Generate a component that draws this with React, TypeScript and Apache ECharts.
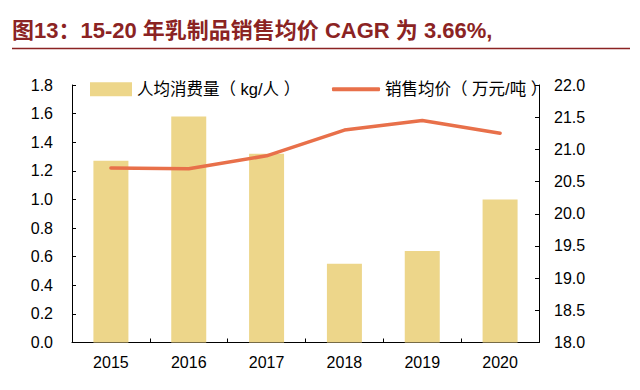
import React, { useEffect, useRef } from "react";
import * as echarts from "echarts";

const categories = ["2015", "2016", "2017", "2018", "2019", "2020"];
const consumption = [1.27, 1.58, 1.32, 0.55, 0.64, 1.0];
const avgPrice = [20.71, 20.7, 20.9, 21.3, 21.45, 21.25];
const barName = "人均消费量（ kg/人 ）";
const lineName = "销售均价（ 万元/吨 ）";
const titleText = "图13：15-20 年乳制品销售均价 CAGR 为 3.66%,";

const FONT = "'Liberation Sans', Arial, 'Noto Sans CJK SC', sans-serif";
const BAR_COLOR = "#EDD68A";
const LINE_COLOR = "#E8704A";
const TITLE_COLOR = "#8B2323";

export default function App() {
  const ref = useRef<HTMLDivElement>(null);
  useEffect(() => {
    if (!ref.current) return;
    const chart = echarts.init(ref.current, undefined, { renderer: "svg" });
    chart.setOption({
      animation: false,
      backgroundColor: "#fff",
      textStyle: { fontFamily: FONT },
      title: {
        text: titleText,
        left: 12,
        top: 19,
        padding: 0,
        textStyle: {
          fontFamily: FONT,
          fontSize: 22,
          fontWeight: "bold",
          color: TITLE_COLOR,
        },
      },
      graphic: [
        {
          type: "line",
          shape: { x1: 12, y1: 48.5, x2: 630, y2: 48.5 },
          style: { stroke: TITLE_COLOR, lineWidth: 1.5 },
        },
      ],
      legend: [
        {
          data: [{ name: barName, icon: "rect" }],
          left: 90,
          top: 81,
          padding: 0,
          itemWidth: 42,
          itemHeight: 14,
          textStyle: { fontSize: 16.5, color: "#000", fontFamily: FONT },
        },
        {
          data: [{ name: lineName, icon: "roundRect" }],
          left: 332,
          top: 81,
          padding: 0,
          itemWidth: 48,
          itemHeight: 4,
          itemStyle: { color: LINE_COLOR },
          textStyle: { fontSize: 16.5, color: "#000", fontFamily: FONT },
        },
      ],
      grid: { left: 72, right: 101, top: 85, bottom: 47.5 },
      xAxis: {
        type: "category",
        data: categories,
        boundaryGap: true,
        axisLine: { lineStyle: { color: "#000", width: 1 } },
        axisTick: { show: true, inside: true, length: 4, alignWithLabel: false, lineStyle: { color: "#000" } },
        axisLabel: { fontSize: 16, color: "#000", margin: 12, fontFamily: FONT },
      },
      yAxis: [
        {
          type: "value",
          min: 0,
          max: 1.8,
          interval: 0.2,
          axisLine: { show: true, lineStyle: { color: "#000", width: 1 } },
          axisTick: { show: true, inside: true, length: 4, lineStyle: { color: "#000" } },
          splitLine: { show: false },
          axisLabel: {
            fontSize: 16,
            color: "#000",
            margin: 19,
            fontFamily: FONT,
            formatter: (v: number) => v.toFixed(1),
          },
        },
        {
          type: "value",
          position: "right",
          min: 18,
          max: 22,
          interval: 0.5,
          axisLine: { show: true, lineStyle: { color: "#000", width: 1 } },
          axisTick: { show: true, inside: true, length: 4, lineStyle: { color: "#000" } },
          splitLine: { show: false },
          axisLabel: {
            fontSize: 16,
            color: "#000",
            margin: 15,
            fontFamily: FONT,
            formatter: (v: number) => v.toFixed(1),
          },
        },
      ],
      series: [
        {
          name: barName,
          type: "bar",
          data: consumption,
          barWidth: 35,
          itemStyle: { color: BAR_COLOR },
          yAxisIndex: 0,
        },
        {
          name: lineName,
          type: "line",
          data: avgPrice,
          yAxisIndex: 1,
          symbol: "none",
          lineStyle: { color: LINE_COLOR, width: 3.5, cap: "round" },
          itemStyle: { color: LINE_COLOR },
        },
      ],
    });
    return () => chart.dispose();
  }, []);
  return (
    <div
      ref={ref}
      style={{ position: "fixed", left: 0, top: 0, width: 640, height: 390 }}
    />
  );
}
